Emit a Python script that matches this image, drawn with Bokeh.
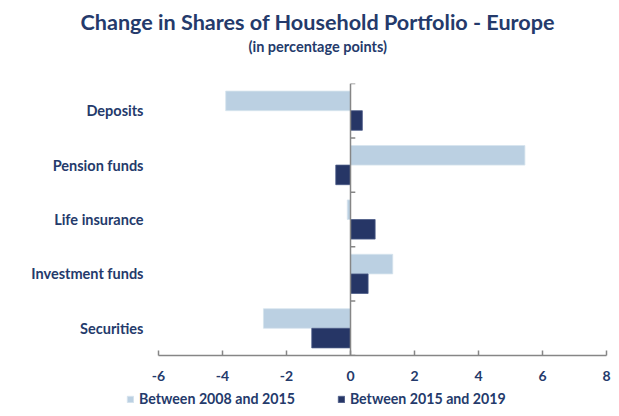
from bokeh.plotting import figure
from bokeh.layouts import column
from bokeh.models import (Range1d, FactorRange, Span, Title, Legend, LegendItem,
                          ColumnDataSource)
from bokeh.transform import dodge
from bokeh.embed import file_html
from bokeh.resources import INLINE

categories = ["Deposits", "Pension funds", "Life insurance", "Investment funds", "Securities"]
change_2008_2015 = [-3.9, 5.45, -0.1, 1.32, -2.72]
change_2015_2019 = [0.37, -0.46, 0.77, 0.55, -1.21]
series_names = ["Between 2008 and 2015", "Between 2015 and 2019"]
x_ticks = [-6, -4, -2, 0, 2, 4, 6, 8]
x_tick_labels = ["-6", "-4", "-2", "0", "2", "4", "6", "8"]
title_text = "Change in Shares of Household Portfolio - Europe"
subtitle_text = "(in percentage points)"

NAVY = "#263666"
LIGHT = "#bbd0e2"
TEXT = "#243a6b"
AXIS = "#868686"
FONT = "Lato"
W = 611

p = figure(width=W, height=388,
           y_range=FactorRange(factors=categories[::-1], range_padding=0),
           x_range=Range1d(x_ticks[0], x_ticks[-1]),
           output_backend="svg", toolbar_location=None,
           min_border_left=158, min_border_right=5,
           min_border_top=83, min_border_bottom=33)
p.outline_line_color = None
p.xgrid.grid_line_color = None
p.ygrid.grid_line_color = None

src = ColumnDataSource(dict(cat=categories, a=change_2008_2015, b=change_2015_2019))
r1 = p.hbar(y=dodge("cat", 0.18, range=p.y_range), left=0, right="a", height=0.36,
            source=src, fill_color=LIGHT, line_color="#d6e3ee", line_width=0.8)
r2 = p.hbar(y=dodge("cat", -0.18, range=p.y_range), left=0, right="b", height=0.36,
            source=src, fill_color=NAVY, line_color="#4a5a86", line_width=0.8)

# vertical zero axis with small ticks at category boundaries
p.add_layout(Span(location=0, dimension="height", line_color=AXIS, line_width=1.5))
bounds = list(range(len(categories) + 1))
p.segment(x0=[0] * len(bounds), x1=[0.15] * len(bounds), y0=bounds, y1=bounds,
          line_color=AXIS, line_width=1.5)

ax = p.xaxis[0]
ax.ticker = x_ticks
ax.major_label_overrides = {t: s for t, s in zip(x_ticks, x_tick_labels)}
ax.axis_line_color = AXIS
ax.axis_line_width = 1.5
ax.major_tick_line_color = AXIS
ax.major_tick_line_width = 1.5
ax.major_tick_in = 5
ax.major_tick_out = 0
ax.minor_tick_line_color = None
ax.major_label_standoff = 15
ax.major_label_text_font = FONT
ax.major_label_text_font_style = "bold"
ax.major_label_text_font_size = "14px"
ax.major_label_text_color = TEXT

ay = p.yaxis[0]
ay.axis_line_color = None
ay.major_tick_line_color = None
ay.minor_tick_line_color = None
ay.major_tick_in = 0
ay.major_tick_out = 0
ay.major_label_standoff = 15
ay.major_label_text_font = FONT
ay.major_label_text_font_style = "bold"
ay.major_label_text_font_size = "14.5px"
ay.major_label_text_color = TEXT

# spacer panel between the subtitle and the plot frame
p.add_layout(Title(text=" ", standoff=24, text_font=FONT, text_font_size="2px"), "above")
p.add_layout(Title(text=subtitle_text, align="left", offset=90, standoff=2,
                   text_font=FONT, text_font_style="bold", text_font_size="14.5px",
                   text_color=TEXT), "above")
p.add_layout(Title(text=title_text, align="left", offset=-78, standoff=0,
                   text_font=FONT, text_font_style="bold", text_font_size="21.6px",
                   text_color=TEXT), "above")

# legend strip below the chart
q = figure(width=W, height=20, output_backend="svg", toolbar_location=None,
           x_axis_location=None, y_axis_location=None,
           x_range=Range1d(0, 1), y_range=Range1d(0, 1),
           min_border_left=0, min_border_right=0, min_border_top=0, min_border_bottom=0)
q.frame_align = False
q.outline_line_color = None
q.grid.visible = False
# off-range proxies that only supply the legend swatches
k1 = q.hbar(y=[-5], left=[0], right=[0], height=0.5, fill_color=LIGHT,
            line_color="#d6e3ee", line_width=0.8)
k2 = q.hbar(y=[-5], left=[0], right=[0], height=0.5, fill_color=NAVY,
            line_color="#4a5a86", line_width=0.8)
legend = Legend(items=[LegendItem(label=series_names[0], renderers=[k1]),
                       LegendItem(label=series_names[1], renderers=[k2])],
                orientation="horizontal", location=(126, 1),
                glyph_width=8, glyph_height=8, label_height=16, label_standoff=5,
                spacing=42, padding=0, margin=0, border_line_color=None,
                background_fill_alpha=0, label_text_font=FONT,
                label_text_font_style="bold", label_text_font_size="14.2px",
                label_text_color=TEXT)
q.add_layout(legend)

layout = column(p, q, spacing=0)
open("out.html", "w").write(file_html(layout, INLINE))
